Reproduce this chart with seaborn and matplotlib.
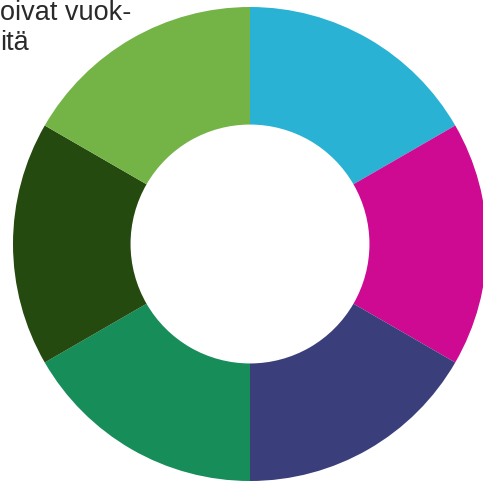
import matplotlib
matplotlib.use("Agg")
import matplotlib.pyplot as plt
import seaborn as sns

# data
segments = ["A", "B", "C", "D", "E", "F"]
shares = [1, 1, 1, 1, 1, 1]
seg_colors = ["#29B2D4", "#CE0A93", "#3A3F7C", "#178D5A", "#254A10", "#74B446"]
caption_lines = ["oivat vuok-", "itä"]

sns.set_theme(style="white")
plt.rcParams["font.family"] = ["Liberation Sans", "DejaVu Sans"]

W, H = 483, 485
fig = plt.figure(figsize=(W / 100, H / 100), dpi=100)
ax = fig.add_axes([0, 0, 1, 1])

# donut centre / radius in pixels
cx, cy, r = 250, 245, 237
palette = sns.color_palette(seg_colors)
ax.pie(shares, colors=palette, startangle=90, counterclock=False,
       radius=1, wedgeprops=dict(width=0.496, linewidth=0))
ax.set_xlim(-cx / r, (W - cx) / r)
ax.set_ylim(-(H - cy) / r, cy / r)
ax.set_aspect("auto")
ax.axis("off")

# cropped caption text, one line at a time (pixel baselines)
for line, x0, base in zip(caption_lines, [0, 0], [20, 50]):
    fig.text(x0 / W, 1 - base / H, line, ha="left", va="baseline",
             fontsize=19.5, color="#2a2a2a")

fig.savefig("out.png", dpi=100)
